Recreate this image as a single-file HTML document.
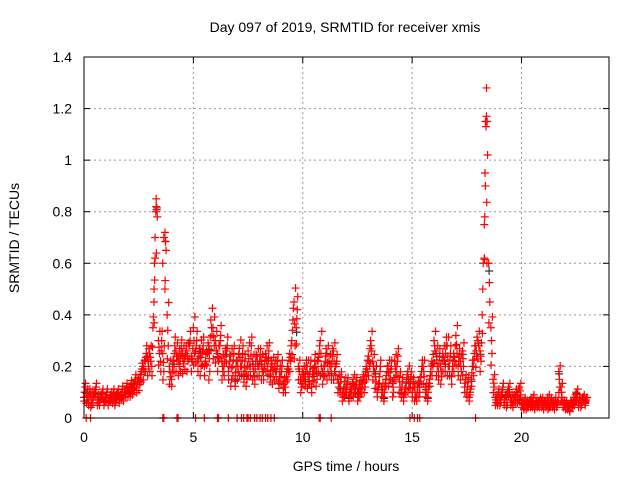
<!DOCTYPE html>
<html><head><meta charset="utf-8"><style>
body{margin:0;background:#fff;}
svg{display:block;font-family:"Liberation Sans",sans-serif;}
</style></head><body>
<svg id="chart" width="640" height="480" viewBox="0 0 640 480">
<text x="345" y="32" font-size="14" text-anchor="middle">Day 097 of 2019, SRMTID for receiver xmis</text>
<text x="346" y="471" font-size="14" text-anchor="middle">GPS time / hours</text>
<text x="19" y="238" font-size="14" text-anchor="middle" transform="rotate(-90 19 238)">SRMTID / TECUs</text>
<g id="grid"></g>
<g id="ticks"></g>
<g id="marks"></g>
<rect x="84" y="57" width="525" height="361" fill="none" stroke="#000" stroke-width="1"/>
</svg>
<script>
const xTicks=[0,5,10,15,20];
const yTicks=[0,0.2,0.4,0.6,0.8,1,1.2,1.4];
const yTickLabels=["0","0.2","0.4","0.6","0.8","1","1.2","1.4"];
const redA=[0.08,0.1,0.06,0.09,0.07,0.1,0.08,0.06,0.09,0.07,
0.08,0.06,0.09,0.07,0.08,0.1,0.07,0.09,0.08,0.1,
0.11,0.1,0.12,0.13,0.12,0.15,0.17,0.2,0.22,0.24,
0.25,0.2,0.45,0.85,0.3,0.22,0.25,0.72,0.4,0.2,
0.15,0.22,0.26,0.24,0.22,0.25,0.23,0.26,0.28,0.24,
0.35,0.26,0.22,0.27,0.25,0.2,0.26,0.28,0.38,0.35,
0.3,0.25,0.28,0.22,0.2,0.26,0.18,0.24,0.2,0.15,
0.22,0.27,0.2,0.17,0.18,0.26,0.2,0.22,0.16,0.24,
0.2,0.22,0.18,0.25,0.2,0.17,0.21,0.2,0.18,0.14,
0.16,0.14,0.12,0.2,0.25,0.3,0.45,0.35,0.2,0.15,
0.18,0.15,0.2,0.16,0.12,0.17,0.2,0.22,0.3,0.18,
0.2,0.25,0.22,0.18,0.26,0.2,0.15,0.12,0.1,0.14,
0.12,0.08,0.1,0.15,0.12,0.1,0.13,0.12,0.16,0.2,
0.24,0.3,0.22,0.18,0.1,0.16,0.12,0.08,0.15,0.2,
0.18,0.14,0.22,0.2,0.16,0.1,0.08,0.12,0.18,0.14,
0.1,0.12,0.08,0.14,0.16,0.2,0.12,0.08,0.15,0.22,
0.3,0.25,0.18,0.2,0.25,0.22,0.28,0.2,0.16,0.25,
0.32,0.2,0.22,0.26,0.12,0.1,0.08,0.15,0.2,0.28,
0.3,0.26,0.4,0.75,1.28,0.6,0.35,0.15,0.08,0.06,
0.08,0.1,0.06,0.09,0.12,0.08,0.05,0.07,0.1,0.12,
0.06,0.04,0.06,0.05,0.07,0.05,0.04,0.06,0.05,0.07,
0.04,0.06,0.08,0.05,0.06,0.04,0.05,0.18,0.12,0.06,
0.04,0.05,0.03,0.06,0.08,0.1,0.05,0.07,0.08,0.06,0.08];
const redB=[0.12,0.07,0.1,0.05,0.09,0.12,0.06,0.08,0.1,0.06,
0.1,0.07,0.08,0.1,0.06,0.09,0.08,0.11,0.1,0.12,
0.1,0.13,0.11,0.15,0.14,0.13,0.19,0.18,0.25,0.2,
0.22,0.35,0.62,0.78,0.25,0.3,0.18,0.65,0.28,0.16,
0.2,0.28,0.22,0.2,0.27,0.21,0.25,0.22,0.3,0.22,
0.25,0.3,0.24,0.2,0.28,0.22,0.25,0.18,0.32,0.28,
0.26,0.22,0.32,0.18,0.24,0.28,0.22,0.15,0.25,0.2,
0.18,0.2,0.25,0.22,0.15,0.2,0.28,0.18,0.22,0.2,
0.24,0.18,0.2,0.22,0.26,0.2,0.16,0.18,0.22,0.18,
0.2,0.12,0.16,0.18,0.22,0.38,0.28,0.42,0.18,0.12,
0.16,0.2,0.14,0.2,0.17,0.22,0.15,0.25,0.2,0.16,
0.24,0.18,0.2,0.24,0.18,0.22,0.12,0.16,0.08,0.1,
0.14,0.1,0.12,0.1,0.14,0.08,0.1,0.15,0.12,0.18,
0.2,0.26,0.18,0.14,0.12,0.2,0.1,0.12,0.18,0.15,
0.2,0.1,0.18,0.24,0.12,0.14,0.1,0.15,0.12,0.16,
0.14,0.08,0.12,0.1,0.2,0.16,0.1,0.12,0.18,0.2,
0.26,0.2,0.24,0.16,0.22,0.28,0.2,0.25,0.2,0.22,
0.25,0.24,0.18,0.2,0.15,0.14,0.1,0.2,0.25,0.24,
0.28,0.22,0.6,1.15,1.02,0.45,0.25,0.12,0.06,0.1,
0.06,0.12,0.08,0.05,0.1,0.06,0.08,0.1,0.07,0.09,
0.05,0.07,0.04,0.06,0.05,0.08,0.06,0.05,0.07,0.05,
0.06,0.05,0.04,0.07,0.05,0.07,0.06,0.12,0.08,0.05,
0.06,0.04,0.06,0.05,0.06,0.08,0.07,0.05,0.08,0.07];
const spikeTimes=[3.2,3.22,3.25,3.28,3.3,3.6,3.65,3.7,18.3,18.32,18.35,18.38,18.4,18.42];
const spikeValues=[0.5,0.6,0.7,0.8,0.82,0.6,0.7,0.5,0.62,0.78,0.9,1.13,1.17,0.6];
const zeroTimes=[0.1,0.3,3.6,3.65,4.25,4.3,5.1,5.5,6.1,6.15,6.6,7.0,7.2,7.3,7.45,7.5,7.6,7.8,7.9,8.05,8.15,8.3,8.4,8.55,8.7,10.75,10.8,11.3,14.9,15.1,15.25,15.35,17.9];
const X=t=>84+t*(525/24);
const Y=v=>418-v*(361/1.4);
const NS="http://www.w3.org/2000/svg";
const grid=document.getElementById('grid'),ticks=document.getElementById('ticks'),marks=document.getElementById('marks');
function mk(tag,attrs,parent){const e=document.createElementNS(NS,tag);for(const k in attrs)e.setAttribute(k,attrs[k]);parent.appendChild(e);return e;}
xTicks.forEach(t=>{
 if(t>0){const g=mk('line',{x1:X(t),x2:X(t),y1:57,y2:418,stroke:'#999','stroke-dasharray':'2,3'},grid);
 
 }
 mk('line',{x1:X(t),x2:X(t),y1:418,y2:412,stroke:'#000'},ticks);
 mk('line',{x1:X(t),x2:X(t),y1:57,y2:63,stroke:'#000'},ticks);
 const l=mk('text',{x:X(t),y:442,'font-size':14,'text-anchor':'middle'},ticks);l.textContent=t;
 
 
});
yTicks.forEach((v,i)=>{
 if(v>0&&v<1.4){const g=mk('line',{x1:84,x2:609,y1:Y(v),y2:Y(v),stroke:'#999','stroke-dasharray':'2,3'},grid);
 
 }
 mk('line',{x1:84,x2:90,y1:Y(v),y2:Y(v),stroke:'#000'},ticks);
 mk('line',{x1:603,x2:609,y1:Y(v),y2:Y(v),stroke:'#000'},ticks);
 const l=mk('text',{x:72,y:Y(v)+5,'font-size':14,'text-anchor':'end'},ticks);l.textContent=yTickLabels[i];
 
 
});
function plus(t,v,color){
 const px=X(t),py=Y(v);
 const p=mk('path',{d:`M${px-4} ${py}H${px+4}M${px} ${py-4}V${py+4}`,stroke:color,'stroke-width':1.2,fill:'none'},marks);
 
 
}
redA.forEach((v,i)=>{if(i%4===1)plus(i*0.1+0.02,v*0.95,'#333');});
redA.forEach((v,i)=>plus(i*0.1,v,'#f00'));
redB.forEach((v,i)=>plus(i*0.1+0.05,v,'#f00'));
redA.forEach((v,i)=>{if(i<230){
 const hi=Math.max(v,redB[i]),lo=Math.min(v,redB[i]);
 plus(i*0.1+0.03,(v+redB[i])/2,'#f00');
 if(hi<0.5)plus(i*0.1+0.07,hi*1.12,'#f00');
 plus(i*0.1+0.01,lo*0.82,'#f00');
}});
spikeTimes.forEach((t,i)=>plus(t,spikeValues[i],'#f00'));
zeroTimes.forEach(t=>plus(t,0,'#f00'));
</script>
</body></html>
